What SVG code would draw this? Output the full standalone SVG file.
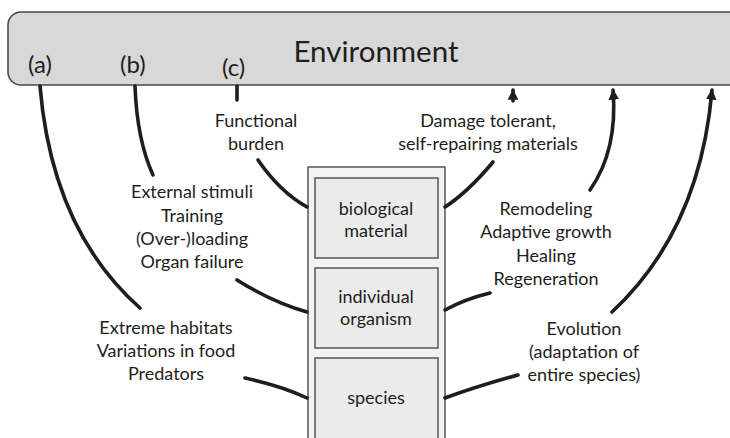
<svg xmlns="http://www.w3.org/2000/svg" width="730" height="438" viewBox="0 0 730 438">
<defs>
<style>
text{font-family:Lato,"Open Sans","Liberation Sans",sans-serif;fill:#1e1e1e;font-size:18px;text-anchor:middle}
.lbl{text-anchor:start;font-size:24px}
.c{fill:none;stroke:#1e1e1e;stroke-width:3.6;stroke-linecap:round}
.box{fill:#ebebeb;stroke:#555;stroke-width:1.5}
</style>
<marker id="ah" viewBox="0 0 10 10" refX="9" refY="5" markerWidth="3" markerHeight="3" orient="auto" markerUnits="strokeWidth">
<path d="M0,0 L10,5 L0,10 z" fill="#1e1e1e"/>
</marker>
</defs>
<rect width="730" height="438" fill="#fff"/>
<g id="environment">
<rect x="8" y="12" width="745" height="73" rx="13" fill="#d8d8d8" stroke="#4a4a4a" stroke-width="1.6"/>
<text x="376" y="62" style="font-size:29.5px">Environment</text>
<text class="lbl" x="28" y="73">(a)</text>
<text class="lbl" x="120" y="73">(b)</text>
<text class="lbl" x="222" y="76">(c)</text>
</g>
<g id="stack">
<rect x="308" y="167" width="137" height="280" fill="#f3f3f3" stroke="#555" stroke-width="1.5"/>
</g>
<g id="biological-material">
<rect class="box" x="315" y="178" width="123" height="80"/>
<text x="376" y="215">biological</text>
<text x="376" y="237">material</text>
</g>
<g id="individual-organism">
<rect class="box" x="315" y="268" width="123" height="80"/>
<text x="376" y="303">individual</text>
<text x="376" y="325">organism</text>
</g>
<g id="species">
<rect class="box" x="315" y="358" width="123" height="90"/>
<text x="376" y="404">species</text>
</g>
<g id="labels">
<text x="256" y="127">Functional</text>
<text x="256" y="150">burden</text>
<text x="488" y="127">Damage tolerant,</text>
<text x="488" y="150">self-repairing materials</text>
<text x="192" y="198">External stimuli</text>
<text x="192" y="222">Training</text>
<text x="192" y="245">(Over-)loading</text>
<text x="192" y="268">Organ failure</text>
<text x="546" y="215">Remodeling</text>
<text x="546" y="238">Adaptive growth</text>
<text x="546" y="262">Healing</text>
<text x="546" y="285">Regeneration</text>
<text x="166" y="334">Extreme habitats</text>
<text x="166" y="357">Variations in food</text>
<text x="166" y="380">Predators</text>
<text x="584" y="335">Evolution</text>
<text x="584" y="358">(adaptation of</text>
<text x="584" y="381">entire species)</text>
</g>
<g id="connectors">
<path class="c" d="M40,86 Q52,230 140,308"/>
<path class="c" d="M135,86 Q137,140 153,175"/>
<path class="c" d="M237,86 L237,100"/>
<path class="c" d="M258,160 Q280,192 307,207"/>
<path class="c" d="M237,280 Q272,302 307,312"/>
<path class="c" d="M245,378 Q282,386 307,398"/>
<path class="c" d="M513,101 L513,90" marker-end="url(#ah)"/>
<path class="c" d="M493,162 Q468,192 445,207"/>
<path class="c" d="M590,190 Q618,150 613,90" marker-end="url(#ah)"/>
<path class="c" d="M490,293 Q465,299 445,310"/>
<path class="c" d="M612,312 Q700,230 712,90" marker-end="url(#ah)"/>
<path class="c" d="M518,375 Q478,386 445,398"/>
</g>
</svg>
